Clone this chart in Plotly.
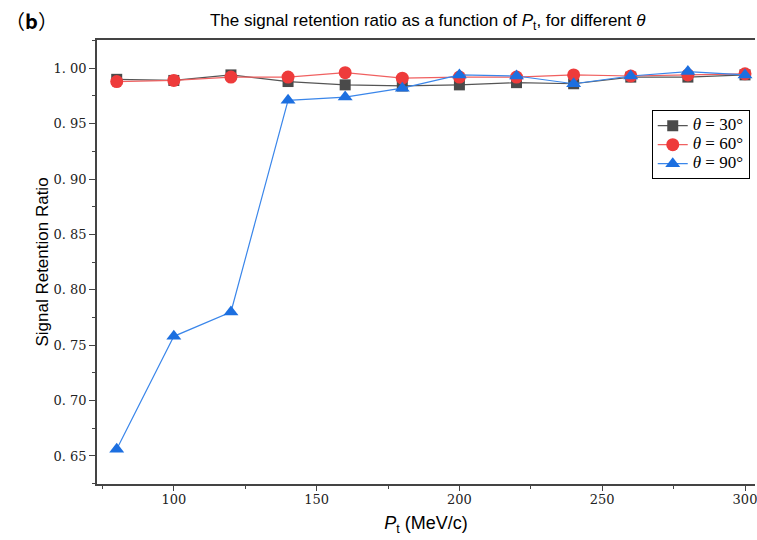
import plotly.graph_objects as go

pt = [80, 100, 120, 140, 160, 180, 200, 220, 240, 260, 280, 300]
theta30 = [0.990, 0.989, 0.994, 0.988, 0.985, 0.984, 0.985, 0.987, 0.986, 0.992, 0.992, 0.994]
theta60 = [0.988, 0.989, 0.992, 0.992, 0.996, 0.991, 0.992, 0.992, 0.994, 0.993, 0.994, 0.995]
theta90 = [0.656, 0.758, 0.780, 0.971, 0.974, 0.982, 0.994, 0.993, 0.986, 0.993, 0.997, 0.994]

ytick_vals = [0.65, 0.70, 0.75, 0.80, 0.85, 0.90, 0.95, 1.00]
ytick_text = ["0. 65", "0. 70", "0. 75", "0. 80", "0. 85", "0. 90", "0. 95", "1. 00"]
xtick_vals = [100, 150, 200, 250, 300]
xtick_text = ["100", "150", "200", "250", "300"]

series = [
    ("<i>θ</i> = 30°", theta30, "#4a4a4a", "#555555", "square", 11),
    ("<i>θ</i> = 60°", theta60, "#ee3b3b", "#f06060", "circle", 13),
    ("<i>θ</i> = 90°", theta90, "#1c6fe0", "#3a86ea", "triangle-up", 13),
]

fig = go.Figure()
for name, vals, mcol, lcol, sym, size in series:
    fig.add_trace(go.Scatter(
        x=pt, y=vals, name='<span style="font-size:17px">' + name + '</span>',
        mode="lines+markers",
        line=dict(color=lcol, width=1.2),
        marker=dict(symbol=sym, size=size, color=mcol, line=dict(width=0)),
    ))

axis_font = dict(family="DejaVu Serif, Liberation Serif, serif", size=13, color="#222")

fig.update_layout(
    width=757, height=540,
    margin=dict(l=97, r=0, t=40, b=56),
    paper_bgcolor="white", plot_bgcolor="white",
    showlegend=True,
    legend=dict(
        x=0.992, y=0.842, xanchor="right", yanchor="top",
        bordercolor="#000", borderwidth=1, bgcolor="white",
        font=dict(family="Liberation Serif, DejaVu Serif, serif", size=10, color="#000"),
        tracegroupgap=0, itemwidth=30,
    ),
    title=dict(
        text="The signal retention ratio as a function of <i>P</i><sub>t</sub>, for different <i>θ</i>",
        x=0.565, xanchor="center", y=0.962, yanchor="middle",
        font=dict(family="Liberation Sans, Arial, sans-serif", size=17, color="#000"),
    ),
    xaxis=dict(
        range=[73.1, 303.5],
        tickvals=xtick_vals, ticktext=xtick_text,
        ticks="outside", ticklen=5, tickwidth=1.2, tickcolor="#444",
        minor=dict(dtick=25, tick0=75, ticks="outside", ticklen=3, tickcolor="#444", showgrid=False),
        showline=True, linecolor="#444", linewidth=1.5, mirror=True,
        showgrid=False, zeroline=False,
        tickfont=axis_font, ticklabeloverflow="allow", ticklabelstandoff=-2,
        title=dict(text="<i>P</i><sub>t</sub> (MeV/c)", standoff=10,
                   font=dict(family="Liberation Sans, Arial, sans-serif", size=18, color="#000")),
    ),
    yaxis=dict(
        range=[0.6247, 1.0255],
        tickvals=ytick_vals, ticktext=ytick_text,
        ticks="outside", ticklen=6, tickwidth=1.2, tickcolor="#444",
        minor=dict(dtick=0.025, tick0=0.625, ticks="outside", ticklen=3, tickcolor="#444", showgrid=False),
        showline=True, linecolor="#444", linewidth=1.5,
        showgrid=False, zeroline=False,
        tickfont=axis_font,
        title=dict(text="Signal Retention Ratio", standoff=1,
                   font=dict(family="Liberation Sans, Arial, sans-serif", size=17, color="#000")),
    ),
    annotations=[dict(
        text="（<b>b</b>）", xref="paper", yref="paper",
        x=-0.143, y=1.045, xanchor="left", yanchor="middle", showarrow=False,
        font=dict(family="Noto Sans CJK SC, sans-serif", size=20, color="#000"),
    )],
)

fig.write_html("out.html")
